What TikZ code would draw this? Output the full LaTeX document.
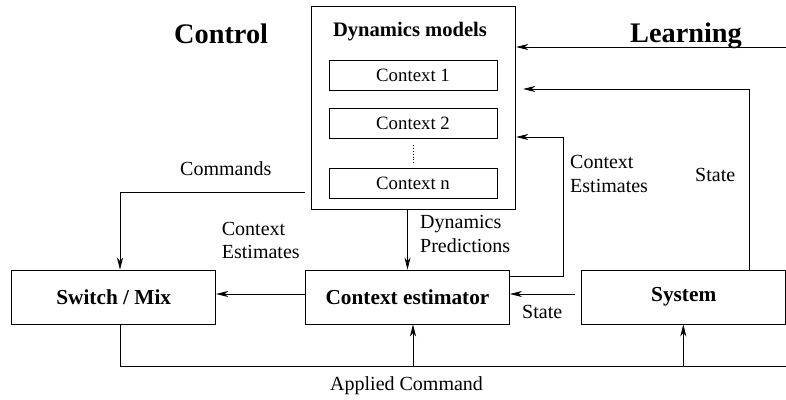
\documentclass[tikz,border=0pt]{standalone}
\usepackage{fontspec}
\setmainfont{Liberation Serif}
\usetikzlibrary{arrows.meta,calc}
\begin{document}
\begin{tikzpicture}[x=1pt,y=-1pt,
  box/.style={draw,line width=0.9pt,inner sep=0pt},
  ln/.style={line width=0.8pt},
  arr/.style={ln,-{Stealth[length=12pt,width=6pt,inset=3.5pt]}},
  lbl/.style={anchor=base west,inner sep=0pt,font=\fontsize{20}{24}\selectfont},
  bignode/.style={box,minimum width=204pt,minimum height=54pt,font=\fontsize{21.3}{24}\selectfont\bfseries},
  ctx/.style={box,minimum width=168pt,minimum height=30pt,font=\fontsize{18.8}{22}\selectfont}]
\useasboundingbox (0,0) rectangle (786,399);
% titles
\node[anchor=base west,inner sep=0pt,font=\fontsize{28.3}{32}\selectfont\bfseries] (tctrl) at (174,43) {Control};
\node[anchor=base west,inner sep=0pt,font=\fontsize{28.3}{32}\selectfont\bfseries] (tlearn) at (630,42) {Learning};
% dynamics models
\node[box,minimum width=204pt,minimum height=203.5pt] (dyn) at (413.7,107.75) {};
\node[anchor=base,inner sep=0pt,font=\fontsize{20.6}{24}\selectfont\bfseries] (dynt) at (410,36.5) {Dynamics models};
\node[ctx] (c1) at (413,75) {Context 1};
\node[ctx] (c2) at (413,123) {Context 2};
\node[ctx] (cn) at (413,183) {Context n};
\draw[ln,dotted] ([yshift=-7pt]c2.south) -- ([yshift=5pt]cn.north);
% bottom boxes
\node[bignode] (sw) at (113.7,297) {Switch / Mix};
\node[bignode] (est) at (407.5,297) {Context estimator};
\node[bignode] (sys) at (683.7,297) {System};
% helper coordinates
\coordinate (lin) at (786,47);
\coordinate (sx) at (749,89);
\coordinate (cex) at (563,137);
\coordinate (cmd) at (305,192);
\coordinate (swx) at (120,192);
\coordinate (bot) at (786,366);
\coordinate (estup) at (413,366);
\coordinate (sysup) at (683.3,366);
% learning input
\draw[arr] (lin) -- (lin -| dyn.east);
% state feedback to dynamics
\draw[arr] (sys.north -| sx) -- (sx) -- ([xshift=7pt]dyn.east |- sx);
% context estimates to dynamics
\draw[arr] ([yshift=21pt]est.east) -| (cex) -- (cex -| dyn.east);
% commands
\draw[arr] (cmd) -| (sw.north -| swx);
% estimator to switch
\draw[arr] ([yshift=3pt]est.west) -- ([yshift=3pt]sw.east);
% dynamics predictions
\draw[arr] (est.north |- dyn.south) -- (est.north);
% system state to estimator
\draw[arr] ([yshift=3pt,xshift=-6pt]sys.west) -- ([yshift=3pt]est.east);
% applied command
\draw[ln] (sw.south -| swx) |- (bot);
\draw[arr] (estup) -- (est.south -| estup);
\draw[arr] (sysup) -- (sys.south -| sysup);
% labels
\node[lbl] (lcmd) at (180,175) {Commands};
\node[lbl] (lce1) at (221.7,235) {Context};
\node[lbl] (lce2) at (221.7,258.5) {Estimates};
\node[lbl] (ldp1) at (420,228.5) {Dynamics};
\node[lbl] (ldp2) at (420,252) {Predictions};
\node[lbl] (lcr1) at (570,168.5) {Context};
\node[lbl] (lcr2) at (570,192.5) {Estimates};
\node[lbl] (lst1) at (695,181.5) {State};
\node[lbl] (lst2) at (522,318) {State};
\node[lbl] (lac) at (330,390) {Applied Command};
\end{tikzpicture}
\end{document}
